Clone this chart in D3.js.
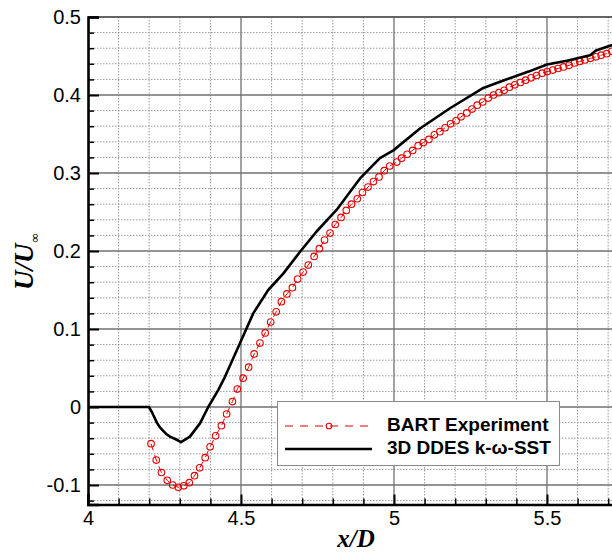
<!DOCTYPE html>
<html>
<head>
<meta charset="utf-8">
<script src="https://cdn.jsdelivr.net/npm/d3@7"></script>
<style>
  body { margin: 0; background: #fff; }
  svg { display: block; }
  .tick text { font-family: 'Liberation Sans', Arial, sans-serif; font-size: 20px; fill: #000; }
</style>
</head>
<body>
<script>
// BART experiment (red circles)
const expX = [4.206, 4.223, 4.240, 4.259, 4.277, 4.295, 4.313, 4.331, 4.348, 4.365,
	4.383, 4.399, 4.417, 4.436, 4.453, 4.472, 4.488, 4.507, 4.525, 4.543,
	4.562, 4.579, 4.597, 4.615, 4.632, 4.650, 4.668, 4.685, 4.703, 4.720,
	4.739, 4.756, 4.773, 4.791, 4.808, 4.827, 4.844, 4.861, 4.880, 4.897,
	4.915, 4.933, 4.951, 4.968, 4.986, 5.009, 5.025, 5.043, 5.061, 5.079,
	5.096, 5.114, 5.132, 5.150, 5.167, 5.185, 5.203, 5.219, 5.238, 5.255,
	5.272, 5.290, 5.308, 5.325, 5.343, 5.360, 5.377, 5.395, 5.413, 5.430,
	5.448, 5.466, 5.484, 5.501, 5.519, 5.536, 5.554, 5.572, 5.590, 5.607,
	5.624, 5.642, 5.660, 5.677, 5.695, 5.712]
const expU = [-0.047, -0.068, -0.084, -0.094, -0.100, -0.103, -0.101, -0.097, -0.088, -0.078,
	-0.065, -0.051, -0.037, -0.024, -0.009, 0.007, 0.023, 0.037, 0.051, 0.068,
	0.082, 0.095, 0.109, 0.122, 0.135, 0.145, 0.153, 0.164, 0.173, 0.182,
	0.193, 0.203, 0.214, 0.223, 0.234, 0.243, 0.252, 0.260, 0.267, 0.275,
	0.282, 0.289, 0.295, 0.303, 0.309, 0.314, 0.319, 0.324, 0.329, 0.335,
	0.339, 0.343, 0.349, 0.353, 0.358, 0.363, 0.367, 0.372, 0.377, 0.382,
	0.387, 0.391, 0.396, 0.400, 0.403, 0.406, 0.410, 0.413, 0.416, 0.419,
	0.422, 0.425, 0.428, 0.430, 0.432, 0.434, 0.436, 0.438, 0.441, 0.443,
	0.445, 0.447, 0.449, 0.451, 0.453, 0.456]

// 3D DDES k-omega-SST (black line)
const ddesX = [4.0, 4.199, 4.208, 4.213, 4.225, 4.235, 4.257, 4.268, 4.29, 4.304,
	4.333, 4.366, 4.393, 4.426, 4.448, 4.497, 4.54, 4.589, 4.638, 4.693,
	4.747, 4.813, 4.845, 4.889, 4.954, 4.998, 5.085, 5.183, 5.292, 5.36,
	5.44, 5.5, 5.565, 5.641, 5.66, 5.713]
const ddesU = [0, 0, -0.006, -0.010, -0.020, -0.026, -0.035, -0.038, -0.042, -0.045,
	-0.038, -0.021, 0, 0.022, 0.039, 0.082, 0.12, 0.15, 0.171, 0.199,
	0.225, 0.253, 0.27, 0.293, 0.319, 0.329, 0.357, 0.383, 0.409, 0.419,
	0.43, 0.439, 0.444, 0.451, 0.457, 0.464]

const xMajor = [4, 4.5, 5, 5.5]
const xMajorLabels = ['4', '4.5', '5', '5.5']
const xMinor = [4.1, 4.2, 4.3, 4.4, 4.6, 4.7, 4.8, 4.9, 5.1, 5.2, 5.3, 5.4, 5.6, 5.7]
const yMajor = [-0.1, 0, 0.1, 0.2, 0.3, 0.4, 0.5]
const yMajorLabels = ['-0.1', '0', '0.1', '0.2', '0.3', '0.4', '0.5']
const yMinor = [-0.12, -0.08, -0.06, -0.04, -0.02, 0.02, 0.04, 0.06, 0.08, 0.12, 0.14, 0.16, 0.18,
	0.22, 0.24, 0.26, 0.28, 0.32, 0.34, 0.36, 0.38, 0.42, 0.44, 0.46, 0.48]

const seriesNames = ['BART Experiment', '3D DDES k-\u03c9-SST']
const red = '#e60000'

const W = 612
const H = 554
const pl = 88, pt = 17, pr = 614.3, pb = 504.5

const x = d3.scaleLinear().domain([4, 5.72]).range([pl, pr])
const y = d3.scaleLinear().domain([-0.125, 0.5]).range([pb, pt])

const svg = d3.select('body').append('svg')
	.attr('width', W)
	.attr('height', H)

svg.append('defs').append('clipPath')
	.attr('id', 'plot')
	.append('rect')
	.attr('x', pl).attr('y', pt)
	.attr('width', pr - pl).attr('height', pb - pt)

// minor grid (dotted)
const grid = svg.append('g')
grid.selectAll('.vmin').data(xMinor).enter().append('line')
	.attr('x1', d => x(d)).attr('x2', d => x(d))
	.attr('y1', pt).attr('y2', pb)
	.attr('stroke', '#9a9a9a').attr('stroke-width', 1).attr('stroke-dasharray', '1.5,1.5')
grid.selectAll('.hmin').data(yMinor).enter().append('line')
	.attr('x1', pl).attr('x2', pr)
	.attr('y1', d => y(d)).attr('y2', d => y(d))
	.attr('stroke', '#9a9a9a').attr('stroke-width', 1).attr('stroke-dasharray', '1.5,1.5')

// major grid (solid)
grid.selectAll('.vmaj').data(xMajor.slice(1)).enter().append('line')
	.attr('x1', d => x(d)).attr('x2', d => x(d))
	.attr('y1', pt).attr('y2', pb)
	.attr('stroke', '#707070').attr('stroke-width', 1.3)
grid.selectAll('.hmaj').data(yMajor).enter().append('line')
	.attr('x1', pl).attr('x2', pr)
	.attr('y1', d => y(d)).attr('y2', d => y(d))
	.attr('stroke', '#707070').attr('stroke-width', 1.3)

// top border
svg.append('line')
	.attr('x1', pl).attr('x2', pr).attr('y1', pt).attr('y2', pt)
	.attr('stroke', '#555').attr('stroke-width', 1.5)

// data
const plot = svg.append('g').attr('clip-path', 'url(#plot)')

const ddes = ddesX.map((d, i) => ({ x: d, u: ddesU[i] }))
const exp = expX.map((d, i) => ({ x: d, u: expU[i] }))

const line = d3.line().x(d => x(d.x)).y(d => y(d.u))

plot.append('path')
	.datum(exp)
	.attr('d', line)
	.attr('fill', 'none')
	.attr('stroke', red)
	.attr('stroke-width', 1)
	.attr('stroke-dasharray', '7,5')

plot.selectAll('circle')
	.data(exp)
	.enter()
	.append('circle')
	.attr('cx', d => x(d.x))
	.attr('cy', d => y(d.u))
	.attr('r', 3.3)
	.attr('fill', 'none')
	.attr('stroke', red)
	.attr('stroke-width', 1.1)

plot.append('path')
	.datum(ddes)
	.attr('d', line)
	.attr('fill', 'none')
	.attr('stroke', '#000')
	.attr('stroke-width', 2.6)
	.attr('stroke-linejoin', 'round')

// axes with inward ticks
const yAxis = d3.axisLeft(y)
	.tickValues(yMajor)
	.tickSize(-11)
	.tickPadding(7)
	.tickFormat((d, i) => yMajorLabels[i])

const yMinorAxis = d3.axisLeft(y)
	.tickValues(yMinor)
	.tickSize(-6)
	.tickFormat('')

const xAxis = d3.axisBottom(x)
	.tickValues(xMajor)
	.tickSize(-10)
	.tickPadding(6.5)
	.tickFormat((d, i) => xMajorLabels[i])

const xMinorAxis = d3.axisBottom(x)
	.tickValues(xMinor)
	.tickSize(-6)
	.tickFormat('')

const gyMin = svg.append('g').attr('transform', `translate(${pl},0)`).call(yMinorAxis)
const gy = svg.append('g').attr('transform', `translate(${pl},0)`).call(yAxis)
const gxMin = svg.append('g').attr('transform', `translate(0,${pb})`).call(xMinorAxis)
const gx = svg.append('g').attr('transform', `translate(0,${pb})`).call(xAxis)

;[gyMin, gxMin].forEach(g => {
	g.select('.domain').remove()
	g.selectAll('line').attr('stroke', '#000').attr('stroke-width', 1.5)
})
;[gy, gx].forEach(g => {
	g.select('.domain').attr('stroke', '#000').attr('stroke-width', 2.6)
	g.selectAll('.tick line').attr('stroke', '#000').attr('stroke-width', 2)
})

// axis titles
svg.append('text')
	.attr('x', 356)
	.attr('y', 547)
	.attr('text-anchor', 'middle')
	.style('font-family', "'Liberation Serif', 'Times New Roman', serif")
	.style('font-weight', 'bold')
	.style('font-style', 'italic')
	.style('font-size', '25px')
	.text('x/D')

const yt = svg.append('text')
	.attr('transform', 'translate(33,290) rotate(-90)')
	.style('font-family', "'Liberation Serif', 'Times New Roman', serif")
	.style('font-weight', 'bold')
	.style('font-style', 'italic')
	.style('font-size', '27px')
yt.append('tspan').text('U/U')
yt.append('tspan')
	.attr('dy', 6)
	.style('font-size', '13px')
	.style('font-weight', 'normal')
	.style('font-style', 'normal')
	.style('font-family', "'DejaVu Sans', sans-serif")
	.text('\u221e')

// legend
const lg = svg.append('g')
lg.append('rect')
	.attr('x', 277.5).attr('y', 401.5)
	.attr('width', 282).attr('height', 64)
	.attr('fill', '#fff')
	.attr('stroke', '#8a8a8a')
	.attr('stroke-width', 1)

lg.append('line')
	.attr('x1', 285).attr('x2', 372).attr('y1', 426).attr('y2', 426)
	.attr('stroke', red).attr('stroke-width', 1.2).attr('stroke-dasharray', '8,7')
lg.append('circle')
	.attr('cx', 329).attr('cy', 426).attr('r', 2.8)
	.attr('fill', 'none').attr('stroke', red).attr('stroke-width', 1.1)
lg.append('line')
	.attr('x1', 285).attr('x2', 372).attr('y1', 449).attr('y2', 449)
	.attr('stroke', '#000').attr('stroke-width', 2.6)

lg.selectAll('text.lab')
	.data(seriesNames)
	.enter()
	.append('text')
	.attr('x', 387)
	.attr('y', (d, i) => 431 + i * 23)
	.style('font-family', "'Liberation Sans', Arial, sans-serif")
	.style('font-weight', 'bold')
	.style('font-size', '19px')
	.text(d => d)
</script>
</body>
</html>
